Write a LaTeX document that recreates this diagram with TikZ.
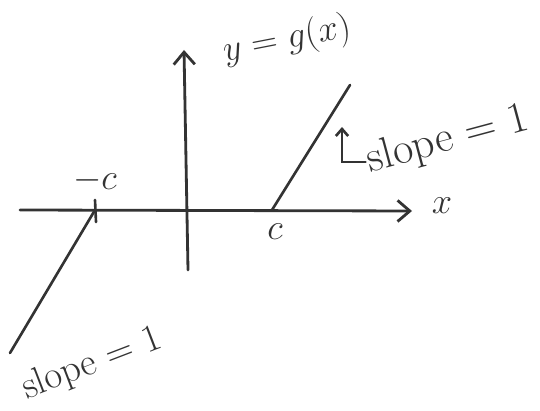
\documentclass[tikz,border=0pt]{standalone}
\usetikzlibrary{arrows.meta}
\begin{document}
\begin{tikzpicture}[
    x=0.02cm, y=-0.02cm,
    font=\fontsize{22}{26}\selectfont,
    % Estilos de ejes y rectas
    axis/.style={line width=1.6pt, draw=black!80, line cap=round},
    graphline/.style={line width=1.5pt, draw=black!80, line cap=round},
    axistip/.style={-{Straight Barb[length=7pt, width=12pt]}},
    pointer/.style={-{Straight Barb[length=4pt, width=7pt]}},
    % Estilos de etiquetas
    lbl/.style={text=black!80, inner sep=1pt}
]
\useasboundingbox (0,0) rectangle (540,411);

% ==========================================
% EJES
% ==========================================
\coordinate (xleft) at (20,210);
\coordinate (xright) at (412,211);
\coordinate (ybottom) at (188,270);
\coordinate (ytop) at (184,50);
\draw[axis, axistip] (xleft) -- (xright);
\draw[axis, axistip] (ybottom) -- (ytop);

\node[lbl] (xlabel) at (442,206) {$x$};
\node[lbl, rotate=11] (glabel) at (287,40) {$y=g(x)$};

% ==========================================
% RAMAS DE g (pendiente 1)
% ==========================================
\coordinate (c) at (272,210);
\coordinate (mc) at (95,210);
\coordinate (ctop) at (350,85);
\coordinate (mcend) at (10,353);
\coordinate (ticktop) at (95,200);
\coordinate (tickbot) at (96,222);

\draw[graphline] (c) -- (ctop);
\draw[graphline] (mc) -- (mcend);
\draw[graphline] (ticktop) -- (tickbot);

\node[lbl] (clabel) at (275,232) {$c$};
\node[lbl] (mclabel) at (95,180) {$-c$};

% Etiquetas de pendiente
\node[lbl, rotate=15, font=\fontsize{25}{30}\selectfont] (sloperight) at (448,140) {slope = 1};
\node[lbl, rotate=21] (slopeleft) at (92,364) {slope = 1};

\coordinate (slopetip) at (342,127);
\draw[graphline, pointer] (sloperight.west) -| (slopetip);

\end{tikzpicture}
\end{document}
